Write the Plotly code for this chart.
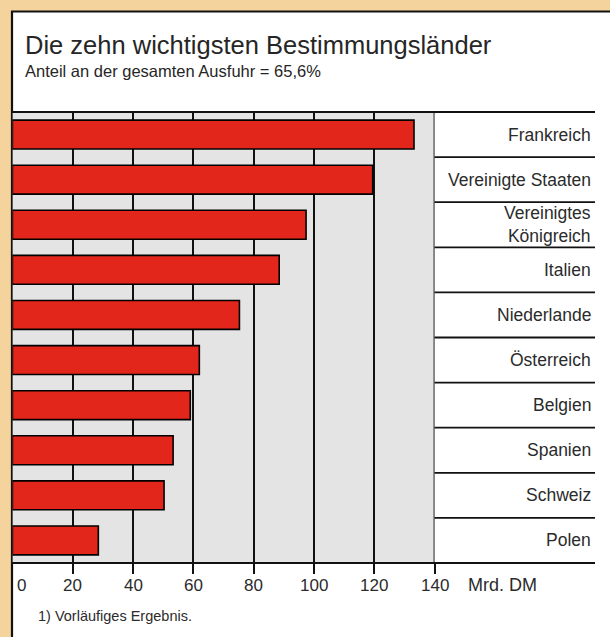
import plotly.graph_objects as go

# ---- data ----
countries = ["Frankreich", "Vereinigte Staaten", "Vereinigtes<br>Königreich", "Italien",
             "Niederlande", "Österreich", "Belgien", "Spanien", "Schweiz", "Polen"]
values = [133.2, 119.5, 97.4, 88.5, 75.3, 62.0, 59.0, 53.3, 50.3, 28.5]
tick_values = [0, 20, 40, 60, 80, 100, 120, 140]
tick_labels = ["0", "20", "40", "60", "80", "100", "120", "140"]
unit_label = "Mrd. DM"
title = "Die zehn wichtigsten Bestimmungsländer"
subtitle = "Anteil an der gesamten Ausfuhr = 65,6%"
footnote = "1) Vorläufiges Ergebnis."

W, H = 610, 637
FONT = "Liberation Sans, Arial, sans-serif"
TXT = "#2b2b2b"
ORANGE = "#f4d49c"

def px(x):
    return x / W

def py(y):
    return 1 - y / H

x_left, x_right = 12.4, 434.5
y_top, y_bot = 112, 563
table_right = 595

fig = go.Figure()
fig.add_trace(go.Bar(
    x=values, y=countries, orientation="h",
    marker=dict(color="#e3261b", line=dict(color="black", width=1.6)),
    width=0.64, hoverinfo="x+y",
))

shapes = [
    # white panel
    dict(type="rect", xref="paper", yref="paper", x0=px(12), x1=1.02, y0=-0.02, y1=py(11.5),
         fillcolor="white", line=dict(color="#111", width=2.2), layer="below"),
    # gray plot background
    dict(type="rect", xref="x", yref="y domain", x0=0, x1=140, y0=0, y1=1,
         fillcolor="#e4e4e4", line=dict(width=0), layer="below"),
    # top and bottom rules
    dict(type="line", xref="paper", yref="y domain", x0=px(12), x1=px(table_right), y0=1, y1=1,
         line=dict(color="#111", width=2)),
    dict(type="line", xref="paper", yref="y domain", x0=px(12), x1=px(table_right), y0=0, y1=0,
         line=dict(color="#111", width=2)),
    # right border of plot area at 140
    dict(type="line", xref="x", yref="y domain", x0=140, x1=140, y0=0, y1=1,
         line=dict(color="#111", width=1.8)),
]
for i in range(len(countries) - 1):
    shapes.append(dict(type="line", xref="paper", yref="y", x0=px(x_right), x1=px(table_right),
                       y0=i + 0.5, y1=i + 0.5, line=dict(color="#111", width=1.8)))

annotations = [
    dict(text=title, xref="paper", yref="paper", x=px(23), y=py(45), xanchor="left",
         yanchor="middle", showarrow=False, font=dict(family=FONT, size=25.5, color="#262626")),
    dict(text=subtitle, xref="paper", yref="paper", x=px(23), y=py(71), xanchor="left",
         yanchor="middle", showarrow=False, font=dict(family=FONT, size=16.5, color="#262626")),
    dict(text=unit_label, xref="paper", yref="paper", x=px(466), y=py(585), xanchor="left",
         yanchor="middle", showarrow=False, font=dict(family=FONT, size=18, color=TXT)),
    dict(text=footnote, xref="paper", yref="paper", x=px(36), y=py(616), xanchor="left",
         yanchor="middle", showarrow=False, font=dict(family=FONT, size=14.5, color=TXT)),
]
for c in countries:
    annotations.append(dict(text=c, xref="paper", yref="y", x=px(table_right - 2), y=c,
                            xanchor="right", yanchor="middle", align="right", showarrow=False,
                            font=dict(family=FONT, size=17.5, color=TXT)))
for v, t in zip(tick_values, tick_labels):
    annotations.append(dict(text=t, xref="x", yref="paper", x=v, y=py(585), xanchor="center",
                            yanchor="middle", showarrow=False, xshift=9 if v == 0 else 0,
                            font=dict(family=FONT, size=17, color=TXT)))

fig.update_layout(
    width=W, height=H, margin=dict(l=0, r=0, t=0, b=0),
    paper_bgcolor=ORANGE, plot_bgcolor="rgba(0,0,0,0)",
    showlegend=False, bargap=0.36,
    xaxis=dict(domain=[px(x_left), px(x_right)], range=[0, 140], tickvals=tick_values,
               showticklabels=False, ticks="outside", ticklen=10, tickwidth=1.6, tickcolor="#111",
               showgrid=True, gridcolor="#111", gridwidth=1.6, zeroline=False, showline=False,
               fixedrange=True),
    yaxis=dict(domain=[py(y_bot), py(y_top)], type="category", categoryorder="array",
               categoryarray=countries, range=[len(countries) - 0.5, -0.5],
               showticklabels=False, showgrid=False, zeroline=False, ticks="", fixedrange=True),
    shapes=shapes, annotations=annotations,
)

fig.write_html(
    "out.html",
    config={"displayModeBar": False},
    post_script="document.body.style.margin='0';document.body.style.overflow='hidden';"
                "document.body.style.background='white';",
)
